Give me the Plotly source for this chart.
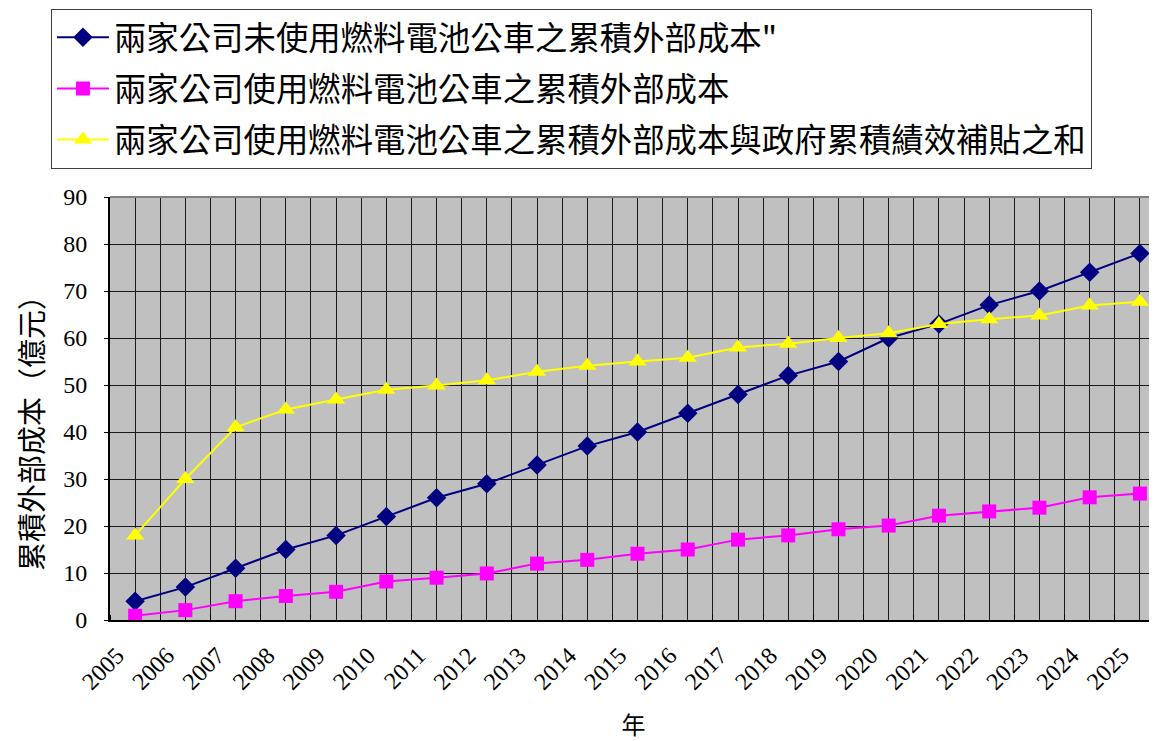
import plotly.graph_objects as go

years = list(range(2005, 2026))
year_labels = [str(y) for y in years]

no_fc_cost = [4, 7, 11, 15, 18, 22, 26, 29, 33, 37, 40, 44, 48, 52, 55, 60, 63, 67, 70, 74, 78]
fc_cost = [0.9, 2.1, 4, 5.1, 6, 8.2, 9, 9.9, 12, 12.8, 14.1, 15, 17.1, 18, 19.3, 20.1, 22.2, 23.1, 23.9, 26.1, 26.9]
fc_plus_subsidy = [18, 30, 41, 44.8, 46.9, 49, 49.9, 51, 52.8, 54.1, 55, 55.8, 58, 58.8, 60, 61, 63, 64, 64.8, 66.9, 67.7]

names = [
    "兩家公司未使用燃料電池公車之累積外部成本\"",
    "兩家公司使用燃料電池公車之累積外部成本",
    "兩家公司使用燃料電池公車之累積外部成本與政府累積績效補貼之和",
]
y_title = "累積外部成本（億元）"
x_title = "年"

serif = "Liberation Serif, Times New Roman, serif"
cjk = "Noto Sans CJK TC, Noto Sans CJK SC, sans-serif"

fig = go.Figure()
fig.add_trace(go.Scatter(x=years, y=no_fc_cost, name=names[0], mode="lines+markers",
                         line=dict(color="#000080", width=2),
                         marker=dict(symbol="diamond", size=15, color="#000080"),
                         legendgroup="a"))
fig.add_trace(go.Scatter(x=years, y=fc_cost, name=names[1], mode="lines+markers",
                         line=dict(color="#FF00FF", width=2),
                         marker=dict(symbol="square", size=14, color="#FF00FF"),
                         legendgroup="b"))
fig.add_trace(go.Scatter(x=years, y=fc_plus_subsidy, name=names[2], mode="lines+markers",
                         line=dict(color="#FFFF00", width=2),
                         marker=dict(symbol="triangle-up", size=16, color="#FFFF00"),
                         legendgroup="c"))

# page has an 8px body margin: figure occupies 8..1157 x 8..741
fig.update_layout(
    width=1149, height=733,
    margin=dict(l=102, r=0, t=189, b=121, autoexpand=False),
    paper_bgcolor="white",
    plot_bgcolor="#C0C0C0",
    showlegend=True,
    legend=dict(
        x=-0.0564, y=1.445, xanchor="left", yanchor="top",
        bordercolor="#404040", borderwidth=1, bgcolor="white",
        font=dict(family=cjk, size=32.4, color="black"),
        tracegroupgap=6,
        itemwidth=52,
    ),
    shapes=[dict(type="line", xref="paper", yref="paper", x0=0, x1=1, y0=1, y1=1,
                 line=dict(color="#808080", width=2))],
    annotations=[dict(text=y_title, textangle=-90, xref="paper", yref="paper",
                      x=-0.0765, y=0.4586, xanchor="center", yanchor="middle",
                      showarrow=False, font=dict(family=cjk, size=29, color="black"))],
)

fig.update_xaxes(
    range=[2004.5, 2025.34],
    tickvals=years, ticktext=year_labels,
    tickangle=-45,
    ticklabelshift=-18,
    ticklabelstandoff=10,
    tickfont=dict(family=serif, size=24, color="black"),
    showgrid=True, gridcolor="#1a1a1a", gridwidth=1,
    showline=True, linecolor="black", linewidth=2,
    ticks="", zeroline=False,
    minor=dict(tick0=2004.5, dtick=1, showgrid=True, gridcolor="#1a1a1a", gridwidth=1,
               ticks="inside", ticklen=5, tickcolor="black"),
    title=dict(text=x_title, font=dict(family=cjk, size=24, color="black"), standoff=30),
)

fig.update_yaxes(
    range=[0, 90], dtick=10,
    tickfont=dict(family=serif, size=24, color="black"),
    ticklabelstandoff=12,
    showgrid=True, gridcolor="#1a1a1a", gridwidth=1,
    showline=True, linecolor="black", linewidth=2,
    ticks="outside", ticklen=4, tickcolor="black",
    zeroline=False,
)

fig.write_html("out.html")
